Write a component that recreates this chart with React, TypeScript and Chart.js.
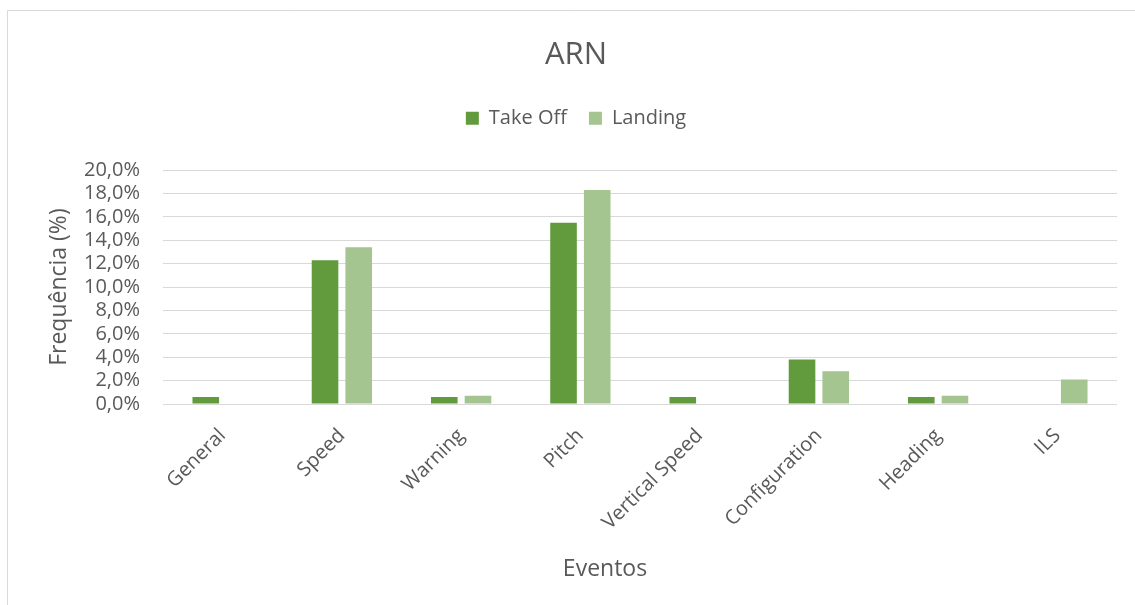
import React, { useEffect, useRef } from 'react';
import { Chart, registerables } from 'chart.js';

Chart.register(...registerables);

const chartTitle = 'ARN';
const categories = ['General', 'Speed', 'Warning', 'Pitch', 'Vertical Speed', 'Configuration', 'Heading', 'ILS'];
const seriesNames = ['Take Off', 'Landing'];
const takeOff = [0.6, 12.3, 0.6, 15.5, 0.6, 3.8, 0.6, 0];
const landing = [0, 13.4, 0.7, 18.3, 0, 2.8, 0.7, 2.1];
const yMin = 0;
const yMax = 20;
const yStep = 2;
const yAxisTitle = 'Frequência (%)';
const xAxisTitle = 'Eventos';

const FONT = "'Open Sans', sans-serif";
const TEXT = '#595959';
const GRID = '#d9d9d9';
const C_TAKEOFF = '#629B3E';
const C_LANDING = '#A4C58F';

export default function App() {
  const ref = useRef<HTMLCanvasElement>(null);

  useEffect(() => {
    if (!ref.current) return;

    const framePlugin = {
      id: 'frame',
      beforeDraw(chart: any) {
        const ctx = chart.ctx;
        ctx.save();
        ctx.fillStyle = '#ffffff';
        ctx.fillRect(0, 0, chart.width, chart.height);
        ctx.strokeStyle = GRID;
        ctx.lineWidth = 1;
        ctx.beginPath();
        ctx.moveTo(7.5, chart.height);
        ctx.lineTo(7.5, 10.5);
        ctx.lineTo(chart.width, 10.5);
        ctx.stroke();
        ctx.restore();
      },
    };

    const xTitlePlugin = {
      id: 'xTitle',
      afterDraw(chart: any) {
        const ctx = chart.ctx;
        ctx.save();
        ctx.font = `23px ${FONT}`;
        ctx.fillStyle = TEXT;
        ctx.textAlign = 'center';
        ctx.textBaseline = 'middle';
        ctx.fillText(xAxisTitle, 605, 569.5);
        ctx.restore();
      },
    };

    const legendSpacer = {
      id: 'legendSpacer',
      beforeUpdate(chart: any) {
        const lg = chart.legend;
        if (lg && !lg._spaced) {
          const orig = lg.fit;
          lg.fit = function () {
            orig.call(this);
            this.height += 32;
          };
          lg._spaced = true;
        }
      },
    };

    const chart = new Chart(ref.current, {
      type: 'bar',
      data: {
        labels: categories,
        datasets: [
          {
            label: seriesNames[0],
            data: takeOff,
            backgroundColor: C_TAKEOFF,
            borderWidth: 0,
            barPercentage: 0.79,
            categoryPercentage: 0.565,
          },
          {
            label: seriesNames[1],
            data: landing,
            backgroundColor: C_LANDING,
            borderWidth: 0,
            barPercentage: 0.79,
            categoryPercentage: 0.565,
          },
        ],
      },
      options: {
        responsive: false,
        animation: false,
        devicePixelRatio: 1,
        layout: { padding: { left: 35, right: 18, top: 0, bottom: 0 } },
        font: { family: FONT },
        plugins: {
          title: {
            display: true,
            text: chartTitle,
            color: TEXT,
            font: { family: FONT, size: 31, weight: 'normal' },
            padding: { top: 37, bottom: 12 },
          },
          legend: {
            display: true,
            position: 'top',
            labels: {
              color: TEXT,
              font: { family: FONT, size: 20 },
              boxWidth: 13,
              boxHeight: 13,
              padding: 22,
            },
          },
          tooltip: { enabled: false },
        },
        scales: {
          x: {
            grid: { display: false, drawTicks: false },
            border: { display: false },
            ticks: {
              color: TEXT,
              font: { family: FONT, size: 20 },
              autoSkip: false,
              maxRotation: 45,
              minRotation: 45,
              padding: 20,
            },
            afterFit(scale: any) {
              scale.height = 201;
            },
          },
          y: {
            min: yMin,
            max: yMax,
            grid: { color: GRID, lineWidth: 1, drawTicks: false },
            border: { display: false },
            ticks: {
              stepSize: yStep,
              autoSkip: false,
              color: TEXT,
              font: { family: FONT, size: 20 },
              padding: 23,
              callback: (v: any) => Number(v).toFixed(1).replace('.', ',') + '%',
            },
            title: {
              display: true,
              text: yAxisTitle,
              color: TEXT,
              font: { family: FONT, size: 23 },
              padding: { top: 11, bottom: 0 },
            },
            afterFit(scale: any) {
              scale.width = 128;
            },
          },
        },
      },
      plugins: [framePlugin, xTitlePlugin, legendSpacer],
    } as any);

    return () => chart.destroy();
  }, []);

  return (
    <div style={{ position: 'absolute', left: 0, top: 0, width: 1135, height: 605 }}>
      <canvas ref={ref} width={1135} height={605} style={{ display: 'block' }} />
    </div>
  );
}
